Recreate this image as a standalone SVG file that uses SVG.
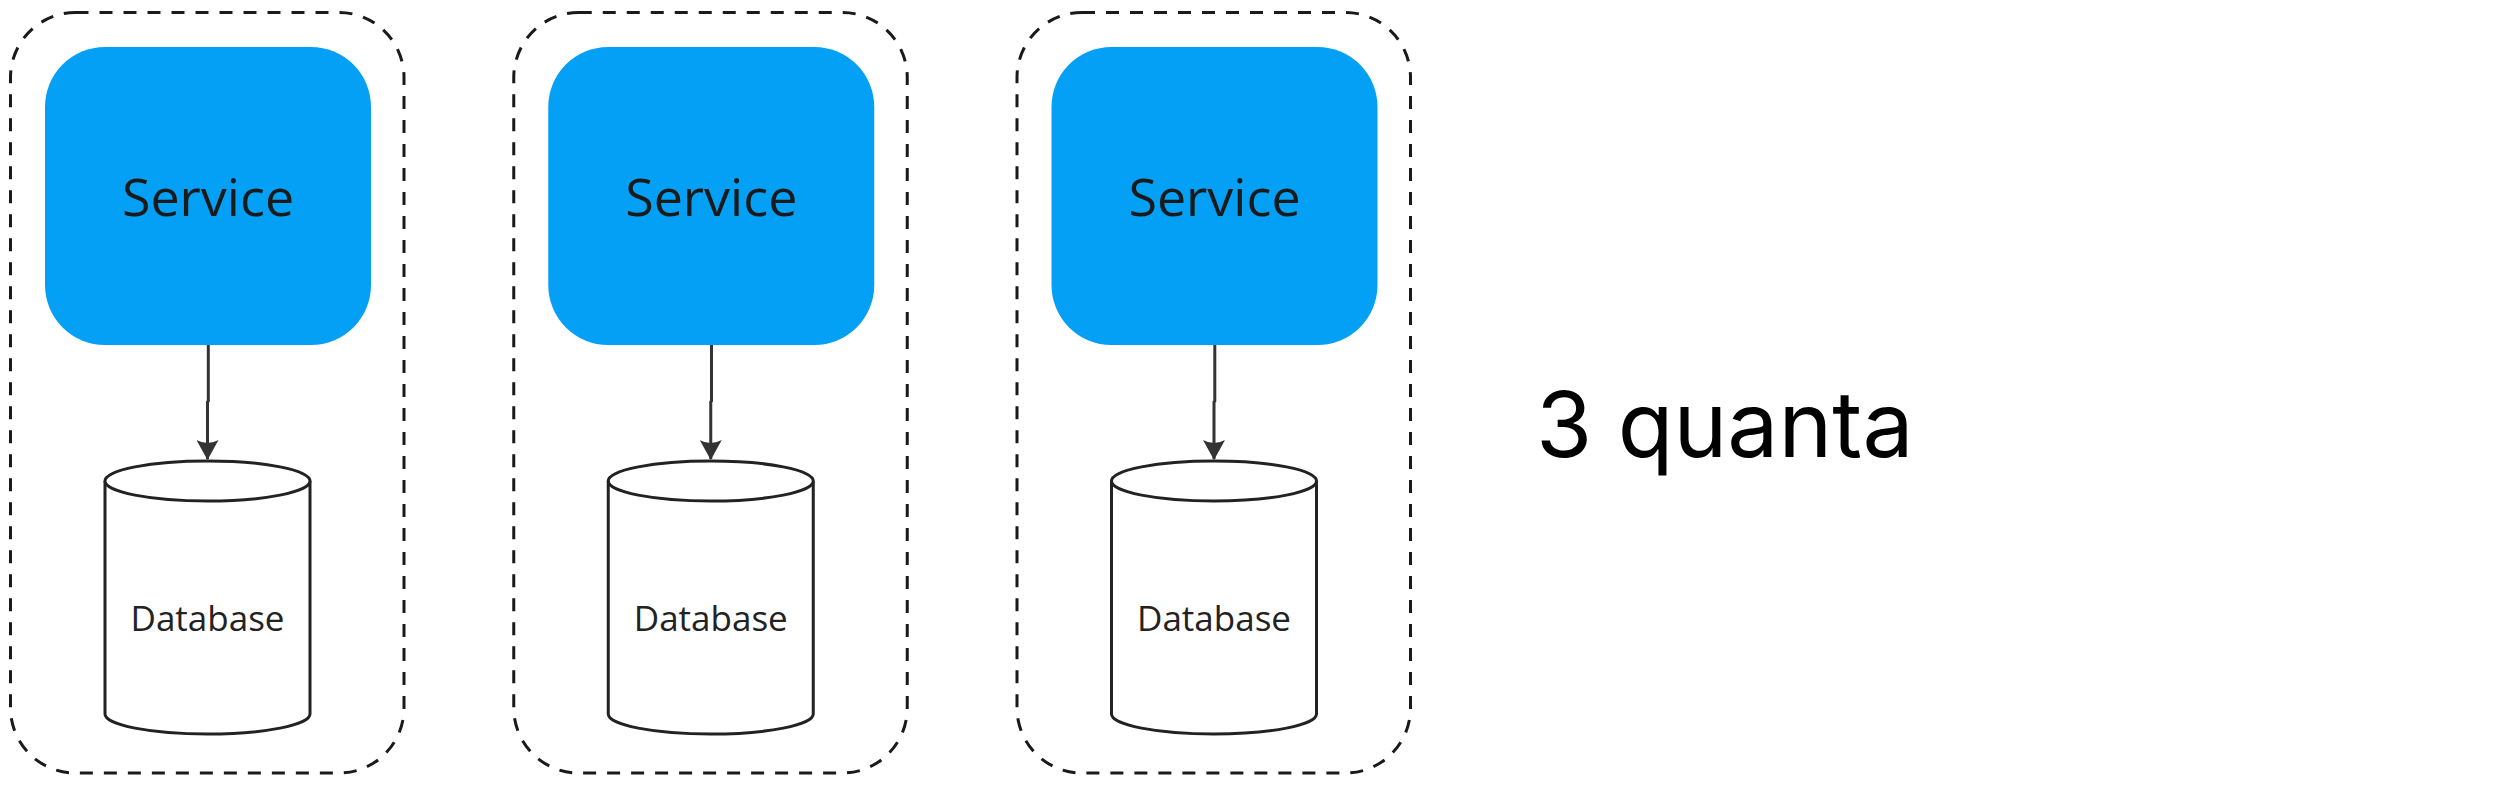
<svg xmlns="http://www.w3.org/2000/svg" width="2506" height="793" viewBox="0 0 2506 793">
<style>
.quantum{fill:none;stroke:#1a1a1a;stroke-width:3;stroke-dasharray:13 11}
.svc{fill:#04a0f6}
.svc-t{font-family:"Open Sans","Noto Sans",sans-serif;font-size:52px;fill:#1a1a1a;text-anchor:middle}
.db{fill:#fff;stroke:#222;stroke-width:3}
.db-t{font-family:"Open Sans","Noto Sans",sans-serif;font-size:35px;fill:#222;text-anchor:middle}
.conn{fill:none;stroke:#333;stroke-width:3}
.lbl{font-family:Inter,"Liberation Sans",sans-serif;font-size:91px;fill:#000}
</style>
<defs>
<marker id="arr" viewBox="0 0 20 22" refX="19" refY="11" markerWidth="20" markerHeight="22" markerUnits="userSpaceOnUse" orient="auto">
<path d="M0,0 Q6,11 0,22 L20,11 Z" fill="#333"/>
</marker>
</defs>
<g id="quantum1"><rect class="quantum" x="10.5" y="12.5" width="393.5" height="760.5" rx="65"/></g>
<g id="quantum2"><rect class="quantum" x="513.75" y="12.5" width="393.5" height="760.5" rx="65"/></g>
<g id="quantum3"><rect class="quantum" x="1017" y="12.5" width="393.5" height="760.5" rx="65"/></g>
<g id="service1"><rect class="svc" x="45" y="47" width="326" height="298" rx="60"/><text class="svc-t" x="208" y="216">Service</text></g>
<g id="service2"><rect class="svc" x="548.25" y="47" width="326" height="298" rx="60"/><text class="svc-t" x="711.25" y="216">Service</text></g>
<g id="service3"><rect class="svc" x="1051.5" y="47" width="326" height="298" rx="60"/><text class="svc-t" x="1214.5" y="216">Service</text></g>
<g id="database1">
<path class="db" d="M105,481 L105,714 A102.5,20 0 0 0 310,714 L310,481"/>
<ellipse class="db" cx="207.5" cy="481" rx="102.5" ry="20"/>
<text class="db-t" x="207.5" y="631">Database</text>
</g>
<g id="database2">
<path class="db" d="M608.25,481 L608.25,714 A102.5,20 0 0 0 813.25,714 L813.25,481"/>
<ellipse class="db" cx="710.75" cy="481" rx="102.5" ry="20"/>
<text class="db-t" x="710.75" y="631">Database</text>
</g>
<g id="database3">
<path class="db" d="M1111.5,481 L1111.5,714 A102.5,20 0 0 0 1316.5,714 L1316.5,481"/>
<ellipse class="db" cx="1214" cy="481" rx="102.5" ry="20"/>
<text class="db-t" x="1214" y="631">Database</text>
</g>
<g id="connectors">
<path class="conn" d="M208.3,345 L208.3,401 L207.5,402 L207.5,459" marker-end="url(#arr)"/>
<path class="conn" d="M711.5,345 L711.5,401 L710.75,402 L710.75,459" marker-end="url(#arr)"/>
<path class="conn" d="M1214.8,345 L1214.8,401 L1214,402 L1214,459" marker-end="url(#arr)"/>
</g>
<g id="label"><text class="lbl" x="1536" y="457">3 quanta</text></g>
</svg>
